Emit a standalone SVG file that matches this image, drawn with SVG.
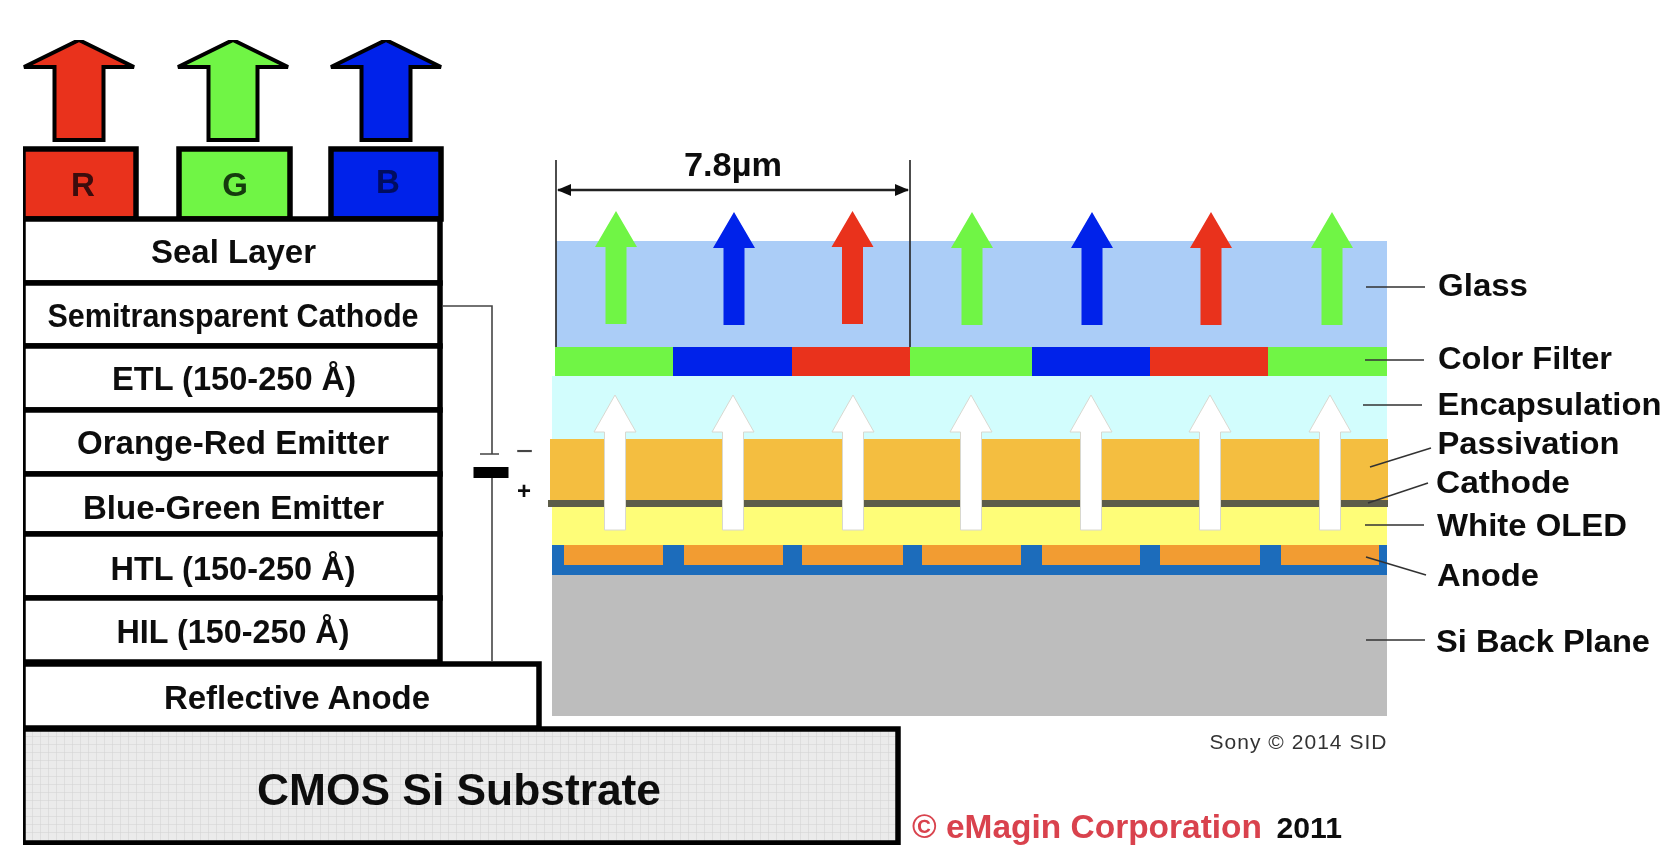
<svg xmlns="http://www.w3.org/2000/svg" width="1676" height="852" viewBox="0 0 1676 852">
<style>
text{font-family:"Liberation Sans",Arial,sans-serif;font-weight:700;fill:#111}
.s{font-size:33px}
.l{font-size:31px}
.box{fill:#fff;stroke:#000;stroke-width:5.500}
.big{stroke:#000;stroke-width:4;stroke-linejoin:miter}
.lead{stroke:#333;stroke-width:1.600;fill:none}
.wire{stroke:#444;stroke-width:1.600;fill:none}
.dim{stroke:#222;stroke-width:1.600;fill:none}
.w{fill:#fff;stroke:#d8d8d0;stroke-width:1}
.r{fill:#E9301F}.g{fill:#70F545}.b{fill:#0320EA}
</style>
<defs>
<pattern id="grid" width="8" height="8" patternUnits="userSpaceOnUse">
<rect width="8" height="8" fill="#ebebeb"/>
<path d="M0 0H8M0 0V8" stroke="#d2d2d2" stroke-width="1" fill="none"/>
</pattern>
<path id="bigArrow" d="M0 0L55 27H24.500V100H-24.500V27H-55Z"/>
<path id="smallArrow" d="M0 0L21 36H10.500V113H-10.500V36H-21Z"/>
<path id="whiteArrow" d="M0 0L21 37H10.500V135H-10.500V37H-21Z"/>
<marker id="ah" viewBox="0 0 14 12" refX="13" refY="6" markerWidth="14" markerHeight="12" markerUnits="userSpaceOnUse" orient="auto-start-reverse"><path d="M0 0L14 6L0 12Z" fill="#111"/></marker>
<filter id="soft" x="0" y="0" width="100%" height="100%"><feGaussianBlur stdDeviation="0.600"/></filter>
</defs>
<rect width="1676" height="852" fill="#fff"/>
<g filter="url(#soft)">
<g id="big-arrows">
<use href="#bigArrow" x="79" y="40" class="big r"/>
<use href="#bigArrow" x="233" y="40" class="big g"/>
<use href="#bigArrow" x="386" y="40" class="big b"/>
</g>
<g id="filter-r"><rect x="23" y="149" width="113" height="70" class="box r"/><text x="83" y="196" text-anchor="middle" class="s" style="fill:#3a0a08">R</text></g>
<g id="filter-g"><rect x="179" y="149" width="111" height="70" class="box g"/><text x="235" y="196" text-anchor="middle" class="s" style="fill:#123a10">G</text></g>
<g id="filter-b"><rect x="331" y="149" width="110" height="70" class="box b"/><text x="388" y="193" text-anchor="middle" class="s" style="fill:#020a60">B</text></g>
<g id="seal-layer"><rect x="23" y="219" width="417" height="64" class="box"/><text x="233.500" y="263" text-anchor="middle" class="s" textLength="165" lengthAdjust="spacingAndGlyphs">Seal Layer</text></g>
<g id="semitransparent-cathode"><rect x="23" y="283" width="417" height="63" class="box"/><text x="233" y="327" text-anchor="middle" class="s" textLength="371" lengthAdjust="spacingAndGlyphs">Semitransparent Cathode</text></g>
<g id="etl"><rect x="23" y="346" width="417" height="64" class="box"/><text x="234" y="390" text-anchor="middle" class="s" textLength="244" lengthAdjust="spacingAndGlyphs">ETL (150-250 Å)</text></g>
<g id="orange-red-emitter"><rect x="23" y="410" width="417" height="64" class="box"/><text x="233" y="454" text-anchor="middle" class="s" textLength="312" lengthAdjust="spacingAndGlyphs">Orange-Red Emitter</text></g>
<g id="blue-green-emitter"><rect x="23" y="474" width="417" height="60" class="box"/><text x="233.500" y="519" text-anchor="middle" class="s" textLength="301" lengthAdjust="spacingAndGlyphs">Blue-Green Emitter</text></g>
<g id="htl"><rect x="23" y="534" width="417" height="64" class="box"/><text x="233" y="580" text-anchor="middle" class="s" textLength="245" lengthAdjust="spacingAndGlyphs">HTL (150-250 Å)</text></g>
<g id="hil"><rect x="23" y="598" width="417" height="64" class="box"/><text x="233" y="643" text-anchor="middle" class="s" textLength="233" lengthAdjust="spacingAndGlyphs">HIL (150-250 Å)</text></g>
<g id="reflective-anode"><rect x="23" y="664" width="516" height="64" class="box"/><text x="297" y="709" text-anchor="middle" class="s" textLength="266" lengthAdjust="spacingAndGlyphs">Reflective Anode</text></g>
<g id="cmos-substrate"><rect x="23" y="729" width="875" height="114" fill="url(#grid)" stroke="#000" stroke-width="5.500"/><text x="459" y="805" text-anchor="middle" style="font-size:44px" textLength="404" lengthAdjust="spacingAndGlyphs">CMOS Si Substrate</text></g>

<g id="right-stack">
<rect x="556" y="241" width="831" height="106" fill="#ABCDF7"/>
<rect x="552" y="376" width="835" height="63" fill="#D2FDFD"/>
<rect x="550" y="439" width="838" height="61" fill="#F4BE40"/>
<rect x="552" y="507" width="835" height="38" fill="#FEFD78"/>
<rect x="548" y="500" width="840" height="7" fill="#5B5B4A"/>
<rect x="552" y="545" width="835" height="30" fill="#1E6CBB"/>
<g fill="#F29C30"><rect x="564" y="545" width="99" height="20"/><rect x="684" y="545" width="99" height="20"/><rect x="802" y="545" width="101" height="20"/><rect x="922" y="545" width="99" height="20"/><rect x="1042" y="545" width="98" height="20"/><rect x="1160" y="545" width="100" height="20"/><rect x="1281" y="545" width="98" height="20"/></g>
<rect x="552" y="575" width="835" height="141" fill="#BDBDBD"/>
<rect x="555" y="347" width="118" height="29" class="g"/><rect x="673" y="347" width="119" height="29" class="b"/><rect x="792" y="347" width="118" height="29" class="r"/><rect x="910" y="347" width="122" height="29" class="g"/><rect x="1032" y="347" width="118" height="29" class="b"/><rect x="1150" y="347" width="118" height="29" class="r"/><rect x="1268" y="347" width="119" height="29" class="g"/>
</g>
<g id="color-arrows">
<use href="#smallArrow" x="616" y="211" class="g"/><use href="#smallArrow" x="734" y="212" class="b"/><use href="#smallArrow" x="852.500" y="211" class="r"/><use href="#smallArrow" x="972" y="212" class="g"/><use href="#smallArrow" x="1092" y="212" class="b"/><use href="#smallArrow" x="1211" y="212" class="r"/><use href="#smallArrow" x="1332" y="212" class="g"/>
</g>
<g id="white-arrows">
<use href="#whiteArrow" x="615" y="395" class="w"/><use href="#whiteArrow" x="733" y="395" class="w"/><use href="#whiteArrow" x="853" y="395" class="w"/><use href="#whiteArrow" x="971" y="395" class="w"/><use href="#whiteArrow" x="1091" y="395" class="w"/><use href="#whiteArrow" x="1210" y="395" class="w"/><use href="#whiteArrow" x="1330" y="395" class="w"/>
</g>
<g id="connectors">
<path class="wire" d="M443 306H492V454M480 454H499M492 478V662"/>
<rect x="473.500" y="467" width="35" height="11" fill="#000"/>
<path class="dim" d="M556 160V347M910 160V347"/>
<path d="M558 190H908" stroke="#222" stroke-width="2.500" fill="none" marker-start="url(#ah)" marker-end="url(#ah)"/>
<path class="lead" d="M1366 287H1425M1365 360H1424M1363 405H1422M1370 467L1431 448M1368 503L1428 483M1365 525H1424M1366 557L1426 575M1366 640H1425"/>
</g>
<g id="labels">
<text x="733" y="176" text-anchor="middle" style="font-size:33px" textLength="98" lengthAdjust="spacingAndGlyphs">7.8µm</text>
<text x="524.500" y="461" text-anchor="middle" style="font-size:30px;font-weight:400;fill:#444">−</text>
<text x="524" y="499" text-anchor="middle" style="font-size:24px">+</text>
<text x="1438" y="296" class="l" textLength="90" lengthAdjust="spacingAndGlyphs">Glass</text>
<text x="1438" y="369" class="l" textLength="174" lengthAdjust="spacingAndGlyphs">Color Filter</text>
<text x="1437.500" y="415" class="l" textLength="224" lengthAdjust="spacingAndGlyphs">Encapsulation</text>
<text x="1437.500" y="454" class="l" textLength="182" lengthAdjust="spacingAndGlyphs">Passivation</text>
<text x="1436" y="493" class="l" textLength="134" lengthAdjust="spacingAndGlyphs">Cathode</text>
<text x="1437" y="536" class="l" textLength="190" lengthAdjust="spacingAndGlyphs">White OLED</text>
<text x="1437" y="586" class="l" textLength="102" lengthAdjust="spacingAndGlyphs">Anode</text>
<text x="1436" y="652" class="l" textLength="214" lengthAdjust="spacingAndGlyphs">Si Back Plane</text>
<text x="1209.500" y="749" style="font-size:21px;font-weight:400;fill:#333" textLength="177" lengthAdjust="spacing">Sony © 2014 SID</text>
<text x="912" y="838" style="font-size:33px;fill:#D9434E" textLength="350" lengthAdjust="spacingAndGlyphs">© eMagin Corporation</text>
<text x="1276.500" y="838" style="font-size:30px" textLength="65.500" lengthAdjust="spacingAndGlyphs">2011</text>
</g>
</g>
</svg>
